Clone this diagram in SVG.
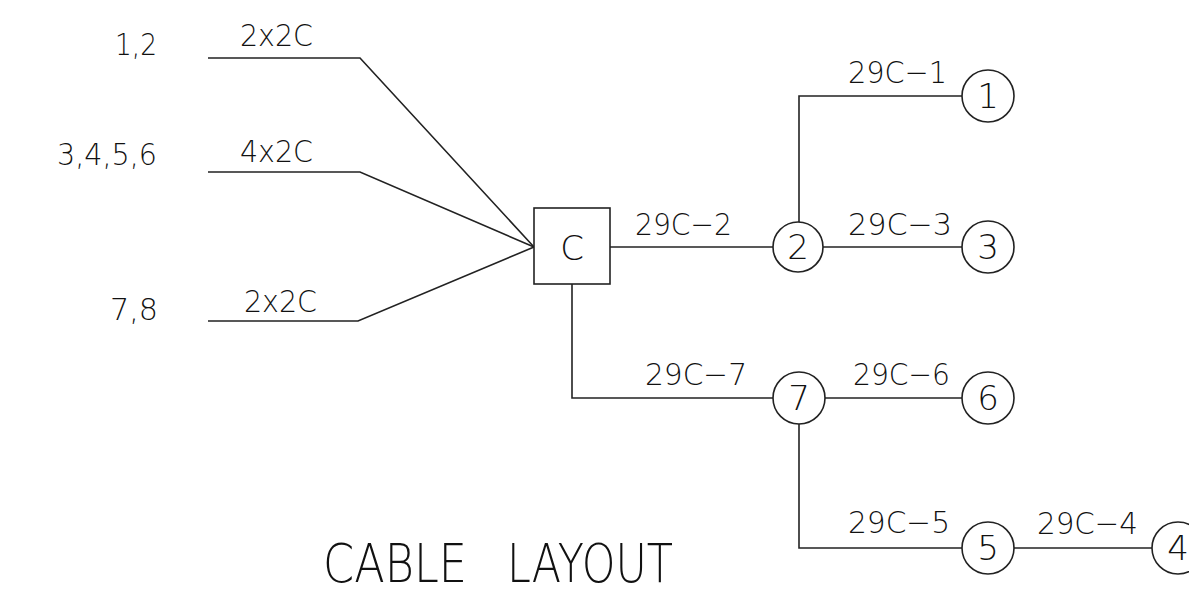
<svg xmlns="http://www.w3.org/2000/svg" width="1189" height="595" viewBox="0 0 1189 595">
<style>
.ln{fill:none;stroke:#222;stroke-width:1.6}
.nd{fill:#fff;stroke:#222;stroke-width:1.6}
text{font-family:"DejaVu Sans ExtraLight","DejaVu Sans","Liberation Sans",sans-serif;font-weight:200;fill:#111}
.lb{font-size:31px}
.num{font-size:34px;text-anchor:middle}
</style>
<rect width="1189" height="595" fill="#fff"/>
<g id="connectors">
<polyline class="ln" points="208,58 360,58 534,247"/>
<polyline class="ln" points="208,172 360,172 534,247"/>
<polyline class="ln" points="208,321 358,321 534,247"/>
<line class="ln" x1="610" y1="247" x2="773" y2="247"/>
<polyline class="ln" points="572,284 572,398 773,398"/>
<polyline class="ln" points="799,222 799,96 962,96"/>
<line class="ln" x1="823" y1="247" x2="962" y2="247"/>
<line class="ln" x1="825" y1="398" x2="962" y2="398"/>
<polyline class="ln" points="799,424 799,548 962,548"/>
<line class="ln" x1="1014" y1="548" x2="1152" y2="548"/>
</g>
<g id="labels">
<text class="lb" x="115" y="55" textLength="42" lengthAdjust="spacingAndGlyphs">1,2</text>
<text class="lb" x="57" y="165" textLength="100" lengthAdjust="spacingAndGlyphs">3,4,5,6</text>
<text class="lb" x="110" y="320" textLength="48" lengthAdjust="spacingAndGlyphs">7,8</text>
<text class="lb" x="240" y="46" textLength="73" lengthAdjust="spacingAndGlyphs">2x2C</text>
<text class="lb" x="240" y="162" textLength="73" lengthAdjust="spacingAndGlyphs">4x2C</text>
<text class="lb" x="244" y="312" textLength="73" lengthAdjust="spacingAndGlyphs">2x2C</text>
<text class="lb" x="635" y="235" textLength="97" lengthAdjust="spacingAndGlyphs">29C−2</text>
<text class="lb" x="848" y="83" textLength="99" lengthAdjust="spacingAndGlyphs">29C−1</text>
<text class="lb" x="848" y="235" textLength="104" lengthAdjust="spacingAndGlyphs">29C−3</text>
<text class="lb" x="645" y="385" textLength="102" lengthAdjust="spacingAndGlyphs">29C−7</text>
<text class="lb" x="853" y="385" textLength="97" lengthAdjust="spacingAndGlyphs">29C−6</text>
<text class="lb" x="848" y="533" textLength="102" lengthAdjust="spacingAndGlyphs">29C−5</text>
<text class="lb" x="1037" y="534" textLength="101" lengthAdjust="spacingAndGlyphs">29C−4</text>
<text y="582" font-size="54"><tspan x="323" textLength="144" lengthAdjust="spacingAndGlyphs">CABLE</tspan> <tspan x="507" textLength="166" lengthAdjust="spacingAndGlyphs">LAYOUT</tspan></text>
</g>
<g id="node-C"><rect class="nd" x="534" y="208" width="76" height="76"/><text class="num" x="572" y="260" font-size="37">C</text></g>
<g id="node-1"><circle class="nd" cx="988" cy="96" r="26"/><text class="num" x="988" y="108">1</text></g>
<g id="node-2"><circle class="nd" cx="798" cy="247" r="25"/><text class="num" x="798" y="259">2</text></g>
<g id="node-3"><circle class="nd" cx="988" cy="247" r="26"/><text class="num" x="988" y="259">3</text></g>
<g id="node-7"><circle class="nd" cx="799" cy="398" r="26"/><text class="num" x="799" y="410">7</text></g>
<g id="node-6"><circle class="nd" cx="988" cy="398" r="26"/><text class="num" x="988" y="410">6</text></g>
<g id="node-5"><circle class="nd" cx="988" cy="548" r="26"/><text class="num" x="988" y="560">5</text></g>
<g id="node-4"><circle class="nd" cx="1178" cy="548" r="26"/><text class="num" x="1178" y="560">4</text></g>
</svg>
